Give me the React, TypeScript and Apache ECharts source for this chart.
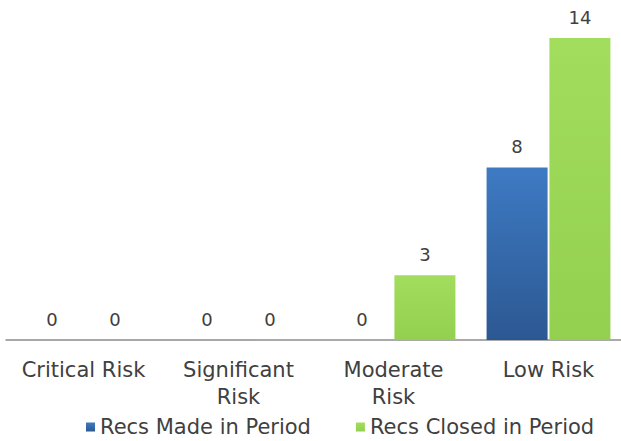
import React, { useEffect, useRef } from "react";
import * as echarts from "echarts";

const categories = ["Critical Risk", "Significant\nRisk", "Moderate\nRisk", "Low Risk"];
const recsMade = [0, 0, 0, 8];
const recsClosed = [0, 0, 3, 14];
const seriesNames = ["Recs Made in Period", "Recs Closed in Period"];

const FONT = "DejaVu Sans";

export default function App() {
  const ref = useRef<HTMLDivElement>(null);
  useEffect(() => {
    if (!ref.current) return;
    const chart = echarts.init(ref.current, undefined, { renderer: "svg" });
    const blue = new echarts.graphic.LinearGradient(0, 0, 0, 1, [
      { offset: 0, color: "#3e7ac3" },
      { offset: 1, color: "#2c5892" },
    ]);
    const green = new echarts.graphic.LinearGradient(0, 0, 0, 1, [
      { offset: 0, color: "#a2dd5e" },
      { offset: 1, color: "#94d04f" },
    ]);
    const label = {
      show: true,
      position: "top",
      distance: 12,
      color: "#404040",
      fontFamily: FONT,
      fontSize: 18,
    };
    chart.setOption({
      animation: false,
      textStyle: { fontFamily: FONT },
      grid: { left: 6, width: 620, top: 38, height: 302, outerBoundsMode: "none", containLabel: false },
      legend: {
        top: 416,
        left: 86,
        itemWidth: 9,
        itemHeight: 9,
        itemGap: 45,
        padding: 0,
        icon: "rect",
        textStyle: { color: "#404040", fontSize: 21, fontFamily: FONT, lineHeight: 22 },
        data: seriesNames,
      },
      xAxis: {
        type: "category",
        data: categories,
        axisLine: { lineStyle: { color: "#8c8c8c", width: 1.5 } },
        axisTick: { show: false },
        axisLabel: {
          color: "#404040",
          fontSize: 21,
          fontFamily: FONT,
          lineHeight: 27,
          margin: 16,
          interval: 0,
          hideOverlap: false,
        },
      },
      yAxis: {
        type: "value",
        min: 0,
        max: 14,
        show: false,
        splitLine: { show: false },
      },
      series: [
        {
          name: seriesNames[0],
          type: "bar",
          data: recsMade,
          barWidth: 61,
          barGap: "3%",
          itemStyle: { color: blue, borderWidth: 0 },
          label,
        },
        {
          name: seriesNames[1],
          type: "bar",
          data: recsClosed,
          barWidth: 61,
          itemStyle: { color: green, borderWidth: 0 },
          label,
        },
      ],
    });
    return () => chart.dispose();
  }, []);
  return (
    <div
      ref={ref}
      style={{ position: "absolute", left: 0, top: 0, width: 621, height: 441 }}
    />
  );
}
